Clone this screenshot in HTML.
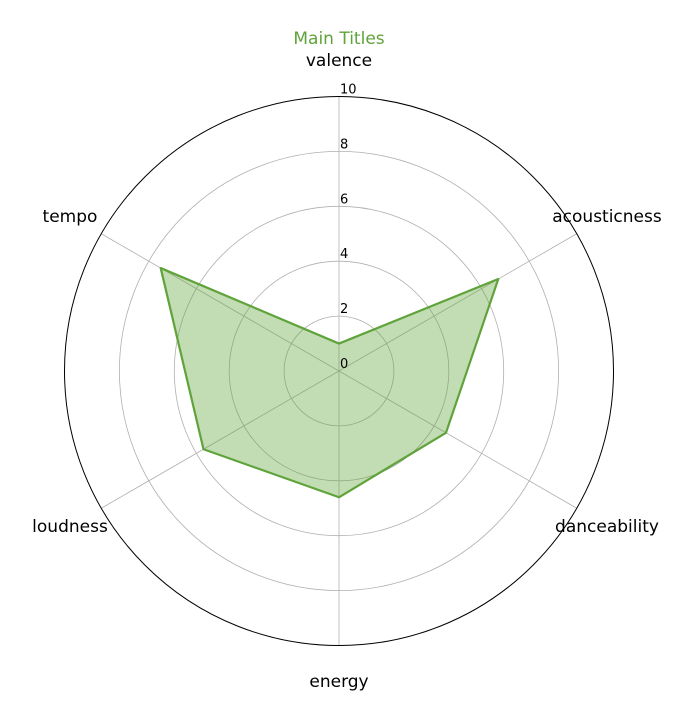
<!DOCTYPE html>
<html><head><meta charset="utf-8"><style>
html,body{margin:0;padding:0;background:#fff;}
svg text{font-family:"DejaVu Sans","Liberation Sans",sans-serif;}
</style></head><body>
<svg id="chart" width="695" height="721" viewBox="0 0 695 721" xmlns="http://www.w3.org/2000/svg">
<text x="339" y="44" text-anchor="middle" font-size="17" fill="#5fa33a">Main Titles</text>
<g id="grid"></g>
<g id="series"></g>
<g id="labels"></g>
</svg>
<script>
const categories = ["valence","acousticness","danceability","energy","loudness","tempo"];
const values = [1, 6.7, 4.5, 4.6, 5.7, 7.5];
const tickLabels = ["0","2","4","6","8","10"];
const tickValues = [0,2,4,6,8,10];
const maxVal = 10;
const cx = 339, cy = 371, R = 274.5;
const NS = "http://www.w3.org/2000/svg";
function rScale(v){ return v / maxVal * R; }
function ang(i){ return -Math.PI/2 + i * 2*Math.PI/categories.length; }
function pt(i,v){ const r=rScale(v), a=ang(i); return [cx + r*Math.cos(a), cy + r*Math.sin(a)]; }
function mk(tag, attrs, parent){ const e=document.createElementNS(NS,tag); for(const k in attrs) e.setAttribute(k,attrs[k]); parent.appendChild(e); return e; }
const grid=document.getElementById('grid'), series=document.getElementById('series'), labels=document.getElementById('labels');
categories.forEach((c,i)=>{
  const [x,y]=pt(i,maxVal);
  const l=mk('line',{x1:cx,y1:cy,x2:x,y2:y,stroke:'#b0b0b0','stroke-width':0.8},grid);
  
  
});
tickValues.forEach((t,k)=>{
  if(t===0) return;
  const c=mk('circle',{cx:cx,cy:cy,r:rScale(t),fill:'none',stroke: t===maxVal?'#000':'#b0b0b0','stroke-width': t===maxVal?1:0.8},grid);
  
  
});
const pts=values.map((v,i)=>pt(i,v).join(',')).join(' ');
const poly=mk('polygon',{points:pts,fill:'rgba(95,163,58,0.38)',stroke:'#5fa33a','stroke-width':2.2,'stroke-linejoin':'round'},series);


tickValues.forEach((t,k)=>{
  const tx=mk('text',{x:cx+1,y:cy-rScale(t)-3,'font-size':13,fill:'#000'},labels);
  tx.textContent=tickLabels[k];
  
  
});
categories.forEach((c,i)=>{
  const a=ang(i);
  let x=cx, y;
  if(Math.cos(a)>0.1) x=607; else if(Math.cos(a)<-0.1) x=70;
  if(i===0) y=66; else if(i===3) y=687; else if(Math.sin(a)<0) y=222; else y=532;
  const tx=mk('text',{x:x,y:y,'font-size':17,fill:'#000','text-anchor':'middle'},labels);
  tx.textContent=c;
  
  
});
</script>
</body></html>
